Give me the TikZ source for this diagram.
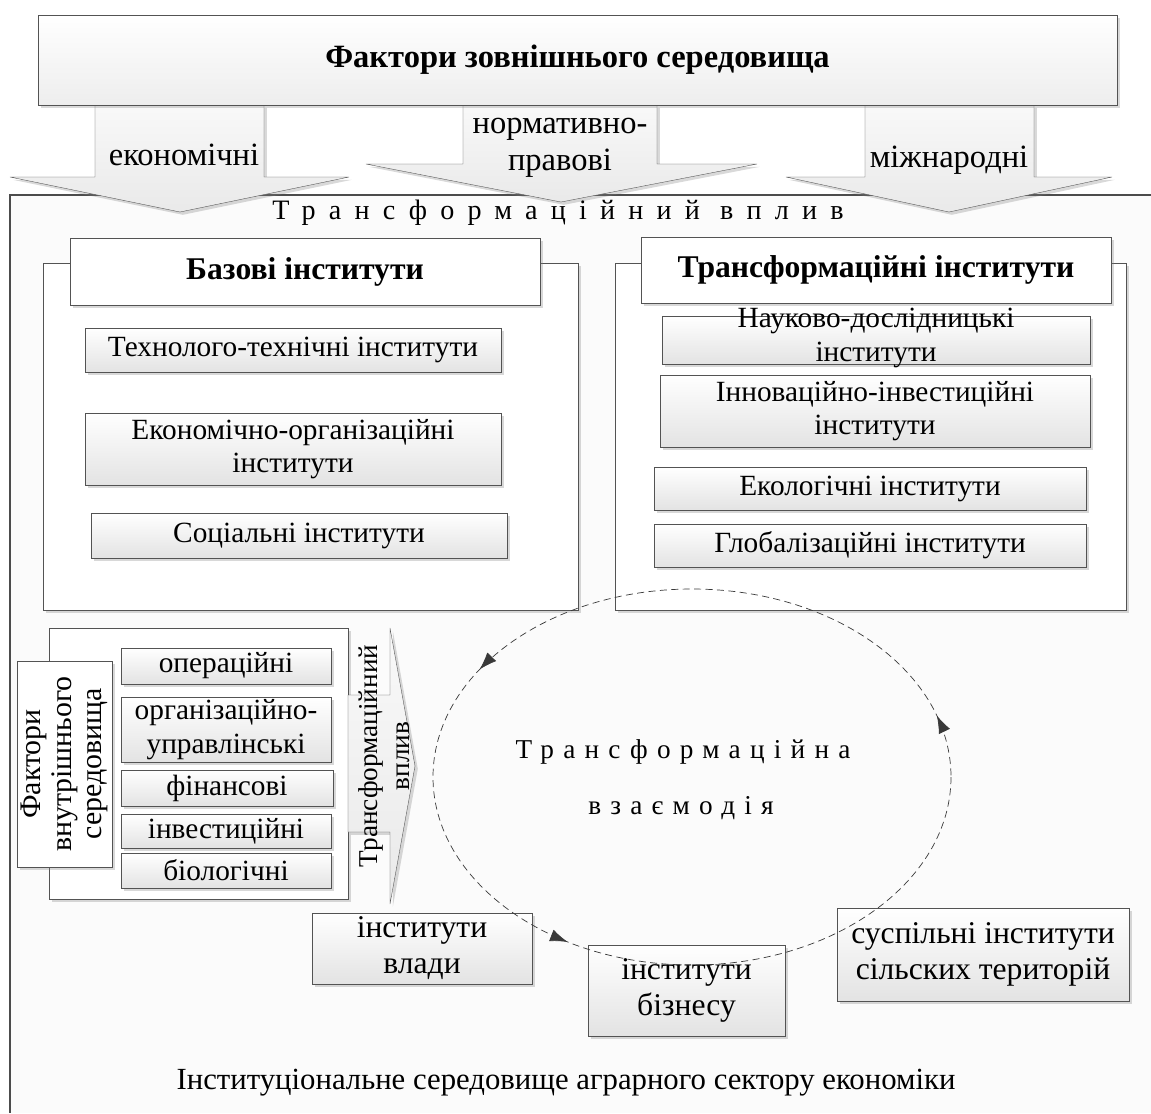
\documentclass[tikz,border=0pt]{standalone}
\usepackage{fontspec}
\setmainfont{Liberation Serif}
\newfontfamily\rozryad[LetterSpace=47]{Liberation Serif}
\newfontfamily\rozryadvz[LetterSpace=34]{Liberation Serif}
\usepackage{tikz, tkz-euclide}
\usetikzlibrary{shadows, decorations.markings, arrows.meta}

\tikzset{
  wh/.style 2 args={minimum width=#1*0.02cm, minimum height=#2*0.02cm},
  tin/.style={drop shadow={opacity=0.3, shadow xshift=1.6pt, shadow yshift=-1.6pt}},
  ramka/.style={draw=gray!65!black, fill=white, tin, inner sep=0pt},
  shapka/.style={ramka, font=\bfseries\fontsize{18}{21}\selectfont},
  inst/.style={draw=gray!65!black, top color=white, bottom color=gray!22, tin,
    inner sep=0pt, align=center, font=\fontsize{16.7}{19}\selectfont},
  napys/.style={inner sep=0pt, align=center, font=\fontsize{16.7}{19}\selectfont},
  strilka/.style={draw=gray!60!black, top color=gray!5, bottom color=gray!17, tin},
  velyki/.style={font=\fontsize{18}{20.5}\selectfont},
  strnapys/.style={napys, font=\fontsize{18.5}{21}\selectfont},
}

\begin{document}
\begin{tikzpicture}[x=0.02cm, y=-0.02cm]
\useasboundingbox (0,0) rectangle (1151,1113);
% seredovyshche
\fill[gray!3] (10,195) rectangle (1151,1113);
\draw[gray!60!black, line width=0.8pt] (1151,195) -- (10,195) -- (10,1113);

% strilky zovnishnikh faktoriv
\tkzDefPoints{95/105/E1, 264/105/E2, 264/177/E3, 349/177/E4, 180/212/E5, 10/177/E6, 95/177/E7}
\tkzDrawPolygon[strilka](E1,E2,E3,E4,E5,E6,E7)
\tkzDefPoints{463/105/N1, 657/105/N2, 657/164/N3, 757/164/N4, 561/202/N5, 366/164/N6, 463/164/N7}
\tkzDrawPolygon[strilka](N1,N2,N3,N4,N5,N6,N7)
\tkzDefPoints{865/105/M1, 1034/105/M2, 1034/177/M3, 1112/177/M4, 949/212/M5, 786/177/M6, 865/177/M7}
\tkzDrawPolygon[strilka](M1,M2,M3,M4,M5,M6,M7)

\node[inst, wh={1079}{90}, bottom color=gray!14, font=\bfseries\fontsize{18.5}{21}\selectfont] (zovn) at (577.5,60) {Фактори зовнішнього середовища};
\node[strnapys] (ekon) at (184,155) {економічні};
\node[strnapys] (norm) at (560,148) {нормативно-\\правові};
\node[strnapys] (mizh) at (949,160) {міжнародні};
\node[napys, font=\rozryad\fontsize{16}{18}\selectfont] (vplyv) at (558,213) {Трансформаційний вплив};

% bazovi instytuty
\node[ramka, wh={535}{347}] (bazovi) at (310.5,436.5) {};
\node[shapka, wh={470}{67}] (bazhead) at (305,271.5) {Базові інститути};
\node[inst, wh={416}{44}] (tekhn) at (293,350) {Технолого-технічні інститути};
\node[inst, wh={416}{72}] (ekonorg) at (293,449) {Економічно-організаційні\\інститути};
\node[inst, wh={416}{45}] (social) at (299,535.5) {Соціальні інститути};

% transformatsiini instytuty
\node[ramka, wh={511}{347}] (transf) at (870.5,436.5) {};
\node[shapka, wh={470}{66}] (transhead) at (876,270) {Трансформаційні інститути};
\node[inst, wh={428}{48}] (nauk) at (876,340) {};
\node[napys] (nauktxt) at (876,338) {Науково-дослідницькі\\інститути};
\node[inst, wh={430}{72}] (innov) at (875,411) {Інноваційно-інвестиційні\\інститути};
\node[inst, wh={432}{43}] (ekol) at (870,488.5) {Екологічні інститути};
\node[inst, wh={432}{43}] (global) at (870,545.5) {Глобалізаційні інститути};

% vnutrishni faktory
\node[ramka, wh={299}{271}] (vnutr) at (198.5,763.5) {};
\node[ramka, rotate=90, wh={206}{95}, align=center, font=\fontsize{17}{17.5}\selectfont] (vnutrhead) at (64.5,764) {Фактори\\внутрішнього\\середовища};
\node[inst, wh={210}{36}] (oper) at (226,666) {операційні};
\node[inst, wh={210}{65}] (orgupr) at (226,729.5) {організаційно-\\управлінські};
\node[inst, wh={212}{36}] (fin) at (227,788) {фінансові};
\node[inst, wh={210}{34}] (invest) at (226,831) {інвестиційні};
\node[inst, wh={210}{35}] (biol) at (226,870.5) {біологічні};
\tkzDefPoints{348/695/V1, 390/695/V2, 390/628/V3, 415/766/V4, 390/904/V5, 390/832/V6, 348/832/V7}
\tkzDrawPolygon[strilka](V1,V2,V3,V4,V5,V6,V7)
\node[napys, rotate=90, font=\fontsize{15.5}{18}\selectfont] (vnvplyv) at (384,756) {Трансформаційний\\вплив};

% instytuty vzaiemodii
\node[inst, wh={220}{71}, velyki] (vlada) at (422,948.5) {інститути\\влади};
\node[inst, wh={197}{91}, velyki] (biznes) at (686.5,990.5) {інститути\\бізнесу};
\node[inst, wh={292}{93}, velyki] (suspil) at (983,954.5) {суспільні інститути\\сільских територій};
\node[napys, font=\fontsize{17.5}{20}\selectfont] (seredov) at (566,1083) {Інституціональне середовище аграрного сектору економіки};

% vzaiemodiia
\node[napys, font=\rozryadvz\fontsize{15.5}{18}\selectfont] (vzaem1) at (683,752) {Трансформаційна};
\node[napys, font=\rozryadvz\fontsize{15.5}{18}\selectfont] (vzaem2) at (681,808) {взаємодія};
\draw[dash pattern=on 4pt off 2.5pt, gray!45!black, postaction={decorate}, decoration={markings,
  mark=at position 0.34 with {\arrowreversed{Latex[length=10pt,width=7pt]}},
  mark=at position 0.585 with {\arrowreversed{Latex[length=10pt,width=7pt]}},
  mark=at position 0.955 with {\arrowreversed{Latex[length=10pt,width=7pt]}}}]
  (692,777) ellipse [x radius=259, y radius=188];
\end{tikzpicture}
\end{document}
